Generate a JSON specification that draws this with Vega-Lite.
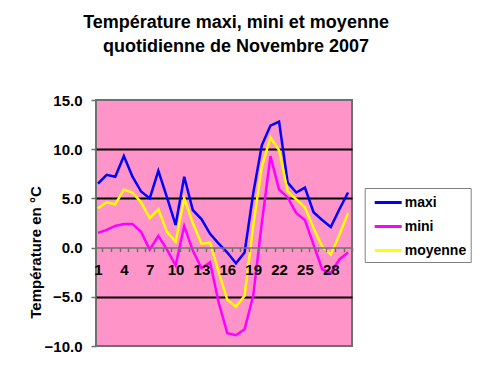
{
  "$schema": "https://vega.github.io/schema/vega-lite/v6.json",
  "width": 256,
  "height": 246,
  "autosize": {"type": "none"},
  "padding": {"left": 96, "top": 100, "right": 132, "bottom": 30},
  "background": "white",
  "title": {
    "text": ["Température maxi, mini et moyenne", "quotidienne de Novembre 2007"],
    "font": "Liberation Sans",
    "fontSize": 18,
    "fontWeight": "bold",
    "color": "black",
    "anchor": "middle",
    "dx": 12,
    "baseline": "top",
    "offset": 37,
    "lineHeight": 24
  },
  "datasets": {
    "d": [
      {"jour": 1, "serie": "maxi", "temp": 6.5}, {"jour": 2, "serie": "maxi", "temp": 7.4}, {"jour": 3, "serie": "maxi", "temp": 7.2}, {"jour": 4, "serie": "maxi", "temp": 9.3}, {"jour": 5, "serie": "maxi", "temp": 7.2}, {"jour": 6, "serie": "maxi", "temp": 5.7}, {"jour": 7, "serie": "maxi", "temp": 5.0}, {"jour": 8, "serie": "maxi", "temp": 7.8}, {"jour": 9, "serie": "maxi", "temp": 5.1}, {"jour": 10, "serie": "maxi", "temp": 2.3},
      {"jour": 11, "serie": "maxi", "temp": 7.2}, {"jour": 12, "serie": "maxi", "temp": 3.8}, {"jour": 13, "serie": "maxi", "temp": 2.9}, {"jour": 14, "serie": "maxi", "temp": 1.4}, {"jour": 15, "serie": "maxi", "temp": 0.4}, {"jour": 16, "serie": "maxi", "temp": -0.5}, {"jour": 17, "serie": "maxi", "temp": -1.6}, {"jour": 18, "serie": "maxi", "temp": -0.5}, {"jour": 19, "serie": "maxi", "temp": 5.5}, {"jour": 20, "serie": "maxi", "temp": 10.4},
      {"jour": 21, "serie": "maxi", "temp": 12.4}, {"jour": 22, "serie": "maxi", "temp": 12.8}, {"jour": 23, "serie": "maxi", "temp": 6.6}, {"jour": 24, "serie": "maxi", "temp": 5.6}, {"jour": 25, "serie": "maxi", "temp": 6.1}, {"jour": 26, "serie": "maxi", "temp": 3.6}, {"jour": 27, "serie": "maxi", "temp": 2.8}, {"jour": 28, "serie": "maxi", "temp": 2.1}, {"jour": 29, "serie": "maxi", "temp": 3.9}, {"jour": 30, "serie": "maxi", "temp": 5.6},
      {"jour": 1, "serie": "mini", "temp": 1.5}, {"jour": 2, "serie": "mini", "temp": 1.8}, {"jour": 3, "serie": "mini", "temp": 2.2}, {"jour": 4, "serie": "mini", "temp": 2.4}, {"jour": 5, "serie": "mini", "temp": 2.4}, {"jour": 6, "serie": "mini", "temp": 1.6}, {"jour": 7, "serie": "mini", "temp": -0.2}, {"jour": 8, "serie": "mini", "temp": 1.2}, {"jour": 9, "serie": "mini", "temp": -0.2}, {"jour": 10, "serie": "mini", "temp": -1.8},
      {"jour": 11, "serie": "mini", "temp": 2.2}, {"jour": 12, "serie": "mini", "temp": -0.3}, {"jour": 13, "serie": "mini", "temp": -2.1}, {"jour": 14, "serie": "mini", "temp": -1.5}, {"jour": 15, "serie": "mini", "temp": -5.6}, {"jour": 16, "serie": "mini", "temp": -8.7}, {"jour": 17, "serie": "mini", "temp": -8.9}, {"jour": 18, "serie": "mini", "temp": -8.3}, {"jour": 19, "serie": "mini", "temp": -4.9}, {"jour": 20, "serie": "mini", "temp": 2.5},
      {"jour": 21, "serie": "mini", "temp": 9.3}, {"jour": 22, "serie": "mini", "temp": 5.9}, {"jour": 23, "serie": "mini", "temp": 5.1}, {"jour": 24, "serie": "mini", "temp": 3.5}, {"jour": 25, "serie": "mini", "temp": 2.8}, {"jour": 26, "serie": "mini", "temp": 0.3}, {"jour": 27, "serie": "mini", "temp": -2.2}, {"jour": 28, "serie": "mini", "temp": -2.6}, {"jour": 29, "serie": "mini", "temp": -1.2}, {"jour": 30, "serie": "mini", "temp": -0.5},
      {"jour": 1, "serie": "moyenne", "temp": 4.0}, {"jour": 2, "serie": "moyenne", "temp": 4.6}, {"jour": 3, "serie": "moyenne", "temp": 4.4}, {"jour": 4, "serie": "moyenne", "temp": 5.9}, {"jour": 5, "serie": "moyenne", "temp": 5.6}, {"jour": 6, "serie": "moyenne", "temp": 4.6}, {"jour": 7, "serie": "moyenne", "temp": 3.0}, {"jour": 8, "serie": "moyenne", "temp": 3.9}, {"jour": 9, "serie": "moyenne", "temp": 1.6}, {"jour": 10, "serie": "moyenne", "temp": 0.6},
      {"jour": 11, "serie": "moyenne", "temp": 5.0}, {"jour": 12, "serie": "moyenne", "temp": 2.5}, {"jour": 13, "serie": "moyenne", "temp": 0.4}, {"jour": 14, "serie": "moyenne", "temp": 0.5}, {"jour": 15, "serie": "moyenne", "temp": -2.5}, {"jour": 16, "serie": "moyenne", "temp": -5.3}, {"jour": 17, "serie": "moyenne", "temp": -6.0}, {"jour": 18, "serie": "moyenne", "temp": -4.9}, {"jour": 19, "serie": "moyenne", "temp": 2.2}, {"jour": 20, "serie": "moyenne", "temp": 8.2},
      {"jour": 21, "serie": "moyenne", "temp": 11.2}, {"jour": 22, "serie": "moyenne", "temp": 9.9}, {"jour": 23, "serie": "moyenne", "temp": 5.7}, {"jour": 24, "serie": "moyenne", "temp": 4.9}, {"jour": 25, "serie": "moyenne", "temp": 4.1}, {"jour": 26, "serie": "moyenne", "temp": 2.0}, {"jour": 27, "serie": "moyenne", "temp": 0.1}, {"jour": 28, "serie": "moyenne", "temp": -0.7}, {"jour": 29, "serie": "moyenne", "temp": 1.3}, {"jour": 30, "serie": "moyenne", "temp": 3.5}
    ]
  },
  "data": {"name": "d"},
  "mark": {"type": "line", "strokeWidth": 2.5},
  "encoding": {
    "x": {
      "field": "jour",
      "type": "quantitative",
      "scale": {"domain": [0.768, 30.46], "nice": false, "zero": false},
      "axis": {
        "values": [1,2,3,4,5,6,7,8,9,10,11,12,13,14,15,16,17,18,19,20,21,22,23,24,25,26,27,28,29,30],
        "labelExpr": "(datum.value - 1) % 3 == 0 ? datum.label : ''",
        "tickOffset": 4.31,
        "labelOffset": -4.31,
        "offset": -98.4,
        "title": null,
        "grid": false,
        "zindex": 1,
        "domainColor": "#707070",
        "domainWidth": 1.5,
        "tickColor": "#707070",
        "tickSize": 4,
        "tickWidth": 1.5,
        "labelFont": "Liberation Sans",
        "labelFontSize": 15,
        "labelFontWeight": "bold",
        "labelColor": "black",
        "labelPadding": 11,
        "labelFlush": false,
        "labelOverlap": false,
        "labelBound": false
      }
    },
    "y": {
      "field": "temp",
      "type": "quantitative",
      "scale": {"domain": [-10, 15], "nice": false, "zero": false},
      "axis": {
        "values": [-10, -5, 0, 5, 10, 15],
        "format": ".1f",
        "grid": true,
        "gridColor": {"condition": {"test": "datum.value === 0 || datum.value === 15 || datum.value === -10", "value": "transparent"}, "value": "black"},
        "gridWidth": 2,
        "domain": false,
        "tickColor": "#707070",
        "tickSize": 5,
        "tickWidth": 1.5,
        "labelFont": "Liberation Sans",
        "labelFontSize": 15,
        "labelFontWeight": "bold",
        "labelColor": "black",
        "labelPadding": 9,
        "labelFlush": false,
        "title": "Température en °C",
        "titleFont": "Liberation Sans",
        "titleFontSize": 15,
        "titleFontWeight": "bold",
        "titleColor": "black",
        "titleAngle": -90,
        "titleX": -61,
        "titleY": 152,
        "titleAlign": "center",
        "titleBaseline": "middle"
      }
    },
    "color": {
      "field": "serie",
      "type": "nominal",
      "scale": {"domain": ["maxi", "mini", "moyenne"], "range": ["#0000ff", "#ff00ff", "#ffff00"]},
      "legend": {
        "orient": "none",
        "legendX": 268.7,
        "legendY": 88,
        "title": null,
        "symbolType": "M -0.5 0 L 2.5 0",
        "symbolSize": 324,
        "symbolStrokeWidth": 3,
        "labelFont": "Liberation Sans",
        "labelFontSize": 14,
        "labelFontWeight": "bold",
        "labelColor": "black",
        "labelOffset": 15,
        "rowPadding": 6,
        "padding": 4,
        "strokeColor": "#808080",
        "fillColor": "white",
        "labelExpr": "datum.label + '  '"
      }
    }
  },
  "config": {"view": {"fill": "#ff94c9", "stroke": "#707070", "strokeWidth": 2}}
}
